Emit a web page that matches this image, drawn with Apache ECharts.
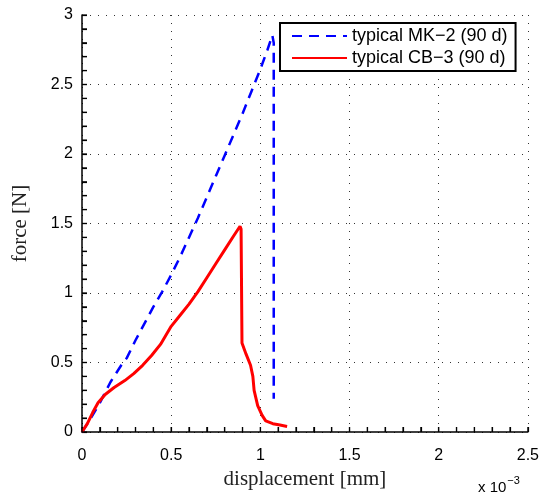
<!DOCTYPE html>
<html>
	<head>
		<meta charset="utf-8">
		<title>force vs displacement</title>
		<script src="https://cdn.jsdelivr.net/npm/echarts@6/dist/echarts.min.js"></script>
	</head>
	<body style="margin:0">
		<div id="main" style="width:542px;height:498px;"></div>
		<script type="text/javascript">
			// displacement in units of 1e-3 mm, force in N
			const mk2Disp = [0, 0.05, 0.1, 0.16, 0.22, 0.25, 0.3, 0.35, 0.4, 0.45, 0.5, 0.55, 0.6, 0.65, 0.7, 0.75, 0.8, 0.85, 0.9, 0.95, 1.0, 1.04, 1.067, 1.075, 1.075];
			const mk2Force = [0, 0.1, 0.21, 0.36, 0.48, 0.53, 0.66, 0.78, 0.9, 1.01, 1.13, 1.26, 1.4, 1.54, 1.69, 1.84, 1.99, 2.14, 2.29, 2.45, 2.61, 2.75, 2.855, 2.8, 0.24];
			const cb3Disp = [0, 0.03, 0.06, 0.09, 0.13, 0.18, 0.24, 0.29, 0.34, 0.39, 0.44, 0.5, 0.55, 0.6, 0.65, 0.7, 0.75, 0.8, 0.85, 0.886, 0.892, 0.897, 0.92, 0.945, 0.958, 0.965, 0.985, 1.01, 1.03, 1.07, 1.11, 1.15];
			const cb3Force = [0, 0.06, 0.14, 0.21, 0.27, 0.32, 0.37, 0.42, 0.48, 0.55, 0.63, 0.76, 0.84, 0.92, 1.01, 1.11, 1.21, 1.31, 1.41, 1.48, 1.46, 0.64, 0.56, 0.48, 0.4, 0.3, 0.19, 0.12, 0.08, 0.06, 0.05, 0.04];
			const seriesNames = ['typical MK\u22122 (90 d)', 'typical CB\u22123 (90 d)'];
			// tick positions (major every 0.5, minor every 0.1)
			const xTicks = [0, 0.1, 0.2, 0.3, 0.4, 0.5, 0.6, 0.7, 0.8, 0.9, 1, 1.1, 1.2, 1.3, 1.4, 1.5, 1.6, 1.7, 1.8, 1.9, 2, 2.1, 2.2, 2.3, 2.4, 2.5];
			const yTicks = [0, 0.1, 0.2, 0.3, 0.4, 0.5, 0.6, 0.7, 0.8, 0.9, 1, 1.1, 1.2, 1.3, 1.4, 1.5, 1.6, 1.7, 1.8, 1.9, 2, 2.1, 2.2, 2.3, 2.4, 2.5, 2.6, 2.7, 2.8, 2.9, 3];

			const zip = (xs, ys) => xs.map((x, i) => [x, ys[i]]);

			let myChart = echarts.init(document.getElementById('main'));

			// MATLAB look: inner ticks, dotted grid
			const axisLook = () => ({
				axisLine: { show: true, onZero: false, lineStyle: { color: '#000', width: 1.5 } },
				axisTick: { show: true, inside: true, length: 5, lineStyle: { color: '#000', width: 1.2 } },
				minorTick: { show: true, splitNumber: 5, length: 5, lineStyle: { color: '#000', width: 1.2 } },
				splitLine: { show: true, lineStyle: { color: '#333', width: 1, type: [1, 7] } }
			});

			// the axis ticks did not show up, so they are also drawn as a custom series
			const tickSeries = (data, dx, dy) => ({
				type: 'custom',
				silent: true,
				clip: false,
				z: 5,
				data: data,
				renderItem: (params, api) => {
					const p = api.coord([api.value(0), api.value(1)]);
					return {
						type: 'line',
						shape: { x1: p[0], y1: p[1], x2: p[0] + dx, y2: p[1] + dy },
						style: { stroke: '#000', lineWidth: 1.2 }
					};
				}
			});

			myChart.setOption({
				grid: { left: 82, right: 14, top: 15, bottom: 66 },
				legend: {
					left: 280,
					top: 23,
					orient: 'vertical',
					itemWidth: 55,
					itemHeight: 14,
					itemGap: 4,
					padding: [4, 8, 4, 11],
					borderColor: '#000',
					borderWidth: 2,
					backgroundColor: '#fff',
					itemStyle: { opacity: 0 },
					textStyle: { fontSize: 18, fontFamily: 'Liberation Sans', color: '#000' },
					data: seriesNames
				},
				xAxis: Object.assign(axisLook(), {
					type: 'value',
					min: 0,
					max: 2.5,
					interval: 0.5,
					name: 'displacement [mm]',
					nameLocation: 'middle',
					nameGap: 37,
					nameTextStyle: { fontSize: 21, fontFamily: 'Liberation Serif', color: '#222' },
					axisLabel: { margin: 16, color: '#000', fontSize: 16, fontFamily: 'Liberation Sans' }
				}),
				yAxis: Object.assign(axisLook(), {
					type: 'value',
					min: 0,
					max: 3,
					interval: 0.5,
					name: 'force [N]',
					nameLocation: 'middle',
					nameGap: 51,
					nameTextStyle: { fontSize: 21, fontFamily: 'Liberation Serif', color: '#222' },
					axisLabel: { margin: 9, color: '#000', fontSize: 16, fontFamily: 'Liberation Sans' }
				}),
				graphic: [{
					type: 'text',
					left: 478,
					top: 475,
					style: {
						text: '{a|x 10}{b|\u22123}',
						rich: {
							a: { fontSize: 15, fontFamily: 'Liberation Sans', fill: '#000', padding: [8, 0, 0, 0] },
							b: { fontSize: 11, fontFamily: 'Liberation Sans', fill: '#000', padding: [0, 0, 6, 1] }
						}
					}
				}],
				series: [{
					name: seriesNames[0],
					type: 'line',
					symbol: 'none',
					color: '#0000ff',
					lineStyle: { color: '#0000ff', width: 2.5, type: [10, 7] },
					data: zip(mk2Disp, mk2Force)
				}, {
					name: seriesNames[1],
					type: 'line',
					symbol: 'none',
					color: '#ff0000',
					lineStyle: { color: '#ff0000', width: 3 },
					data: zip(cb3Disp, cb3Force)
				},
				tickSeries(xTicks.map(v => [v, 0]), 0, -5),
				tickSeries(yTicks.map(v => [0, v]), 5, 0)]
			});
		</script>
	</body>
</html>
